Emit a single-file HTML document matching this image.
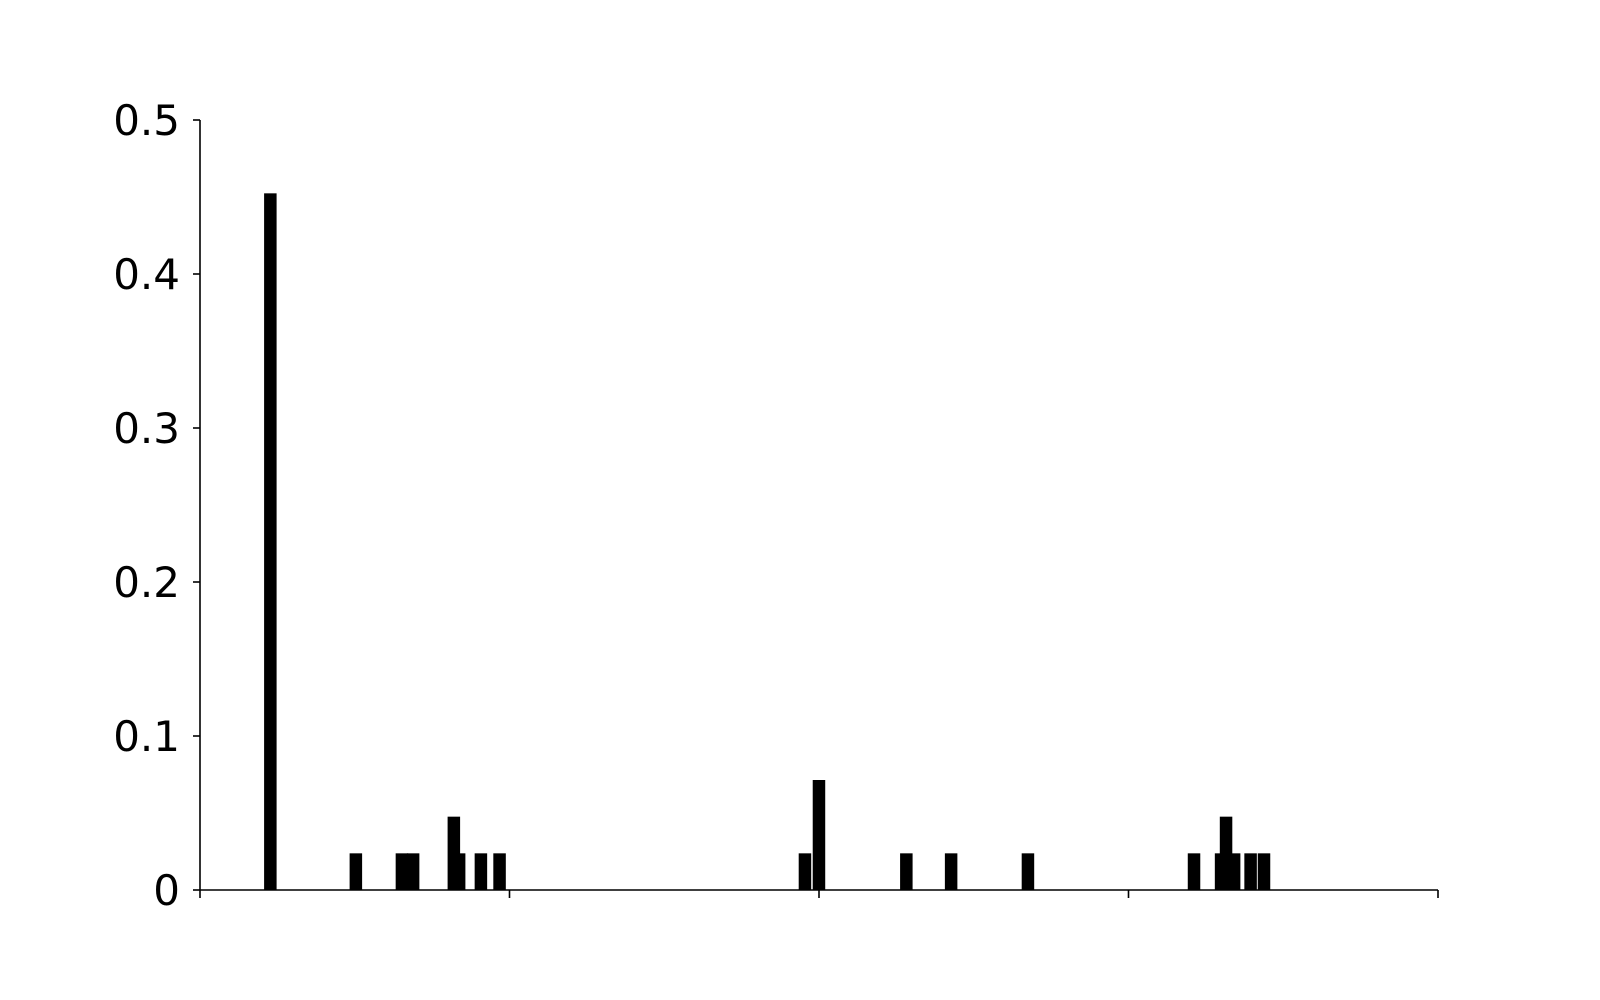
<!DOCTYPE html>
<html><head><meta charset="utf-8"><style>
html,body{margin:0;padding:0;background:#fff;}
svg{display:block;}
text{font-family:"DejaVu Sans","Liberation Sans",sans-serif;}
</style></head><body>
<svg id="chart" width="1600" height="1000" viewBox="0 0 1600 1000" xmlns="http://www.w3.org/2000/svg"></svg>
<script>
const xPositions = [0.2273,0.5036,0.6524,0.6886,0.8202,0.8373,0.9076,0.9679,1.9546,1.9999,2.2822,2.4269,2.6751,3.2117,3.2991,3.3152,3.3413,3.3945,3.4378];
const barValues = [19/42,1/42,1/42,1/42,2/42,1/42,1/42,1/42,1/42,3/42,1/42,1/42,1/42,1/42,1/42,2/42,1/42,1/42,1/42];
const yTicks = [0,0.1,0.2,0.3,0.4,0.5];
const yTickLabels = ["0","0.1","0.2","0.3","0.4","0.5"];
const xTicks = [0,1,2,3,4];

const svg = document.getElementById('chart');
const NS = 'http://www.w3.org/2000/svg';
const X0 = 200, XU = 309.5, Y0 = 890, YU = 1540;
function sx(v){return X0 + v*XU;}
function sy(v){return Y0 - v*YU;}
const barW = 12.5;

function mk(tag, attrs){const e=document.createElementNS(NS,tag);for(const k in attrs)e.setAttribute(k,attrs[k]);svg.appendChild(e);return e;}

xPositions.forEach((x,i)=>{
  const r = mk('rect',{x:sx(x)-barW/2,y:sy(barValues[i]),width:barW,height:Y0-sy(barValues[i]),fill:'#000'});
  
  
});

const ya = mk('line',{x1:X0,y1:sy(0.5),x2:X0,y2:Y0,stroke:'#000','stroke-width':1.6});


const xa = mk('line',{x1:X0,y1:Y0,x2:sx(4),y2:Y0,stroke:'#000','stroke-width':1.6});



yTicks.forEach((t,i)=>{
  const tk = mk('line',{x1:X0-7,y1:sy(t),x2:X0,y2:sy(t),stroke:'#000','stroke-width':1.6});
  
  
  const tx = mk('text',{x:X0-20,y:sy(t)+15,'text-anchor':'end','font-size':42,fill:'#000'});
  tx.textContent = yTickLabels[i];
  
  
});
xTicks.forEach(t=>{
  const tk = mk('line',{x1:sx(t),y1:Y0,x2:sx(t),y2:Y0+8,stroke:'#000','stroke-width':1.6});
  
  
});
</script>
</body></html>
